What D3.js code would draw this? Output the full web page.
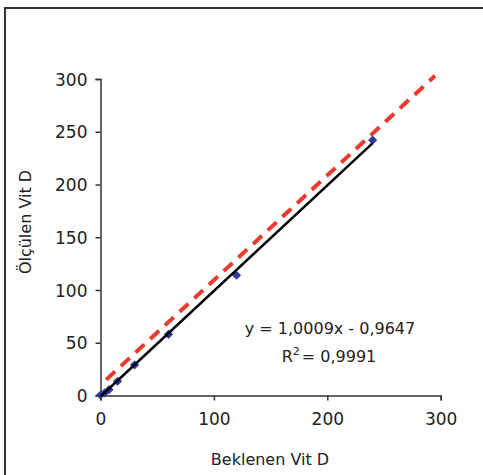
<!DOCTYPE html>
<html>
<head>
<meta charset="utf-8">
<script src="https://cdn.jsdelivr.net/npm/d3@7"></script>
<style>
  body { margin: 0; background: #fff; }
  svg text { font-family: "DejaVu Sans", sans-serif; fill: #222; }
  .axis path, .axis line { stroke: #333; stroke-width: 1.5px; }
  .axis text { font-size: 17px; }
</style>
</head>
<body>
<div id="chart"></div>
<script>
'use strict';

// expected vs measured vitamin D
const expected = [0, 3.75, 7.5, 15, 30, 60, 120, 240];
const measured = [0.5, 2.5, 5.5, 13.5, 29, 58, 114, 242];
// fitted trend line: y = 1,0009x - 0,9647
const slope = 1.0009;
const intercept = -0.9647;
const trendRange = [0, 240];
// reference line drawn over the figure
const refLine = [[5, 15], [295, 303]];
const xTicks = [0, 100, 200, 300];
const yTicks = [0, 50, 100, 150, 200, 250, 300];
const eqLines = ['y = 1,0009x - 0,9647', 'R', '2', '= 0,9991'];

const w = 483, h = 475;
const svg = d3.select('#chart').append('svg')
  .attr('width', w)
  .attr('height', h);

// outer frame
svg.append('rect')
  .attr('x', 5)
  .attr('y', 8)
  .attr('width', w + 10)
  .attr('height', h + 10)
  .attr('fill', 'none')
  .attr('stroke', '#333')
  .attr('stroke-width', 2);

const x = d3.scaleLinear().domain([0, 300]).range([100.5, 440.7]);
const y = d3.scaleLinear().domain([0, 300]).range([395.5, 79]);

const xAxis = d3.axisBottom(x).tickValues(xTicks).tickSize(5).tickPadding(12);
const yAxis = d3.axisLeft(y).tickValues(yTicks).tickSize(5).tickPadding(8);

svg.append('g')
  .attr('class', 'x axis')
  .attr('transform', 'translate(0,' + y(0) + ')')
  .call(xAxis);

svg.append('g')
  .attr('class', 'y axis')
  .attr('transform', 'translate(' + x(0) + ',0)')
  .call(yAxis);

svg.selectAll('.y.axis text').attr('dy', '0.36em');

// red dashed reference line
svg.append('line')
  .attr('x1', x(refLine[0][0]))
  .attr('y1', y(refLine[0][1]))
  .attr('x2', x(refLine[1][0]))
  .attr('y2', y(refLine[1][1]))
  .attr('stroke', '#ec3b2d')
  .attr('stroke-width', 4)
  .attr('stroke-dasharray', '12,8');

// points (squares turned 45 degrees)
const marker = d3.symbol().type(d3.symbolSquare).size(42);
svg.append('g')
  .selectAll('path')
  .data(expected)
  .enter()
  .append('path')
  .attr('d', marker)
  .attr('fill', '#2e3b9b')
  .attr('transform', function (d, i) {
    return 'translate(' + x(d) + ',' + y(measured[i]) + ') rotate(45)';
  });

// trend line
svg.append('line')
  .attr('x1', x(trendRange[0]))
  .attr('y1', y(slope * trendRange[0] + intercept))
  .attr('x2', x(trendRange[1]))
  .attr('y2', y(slope * trendRange[1] + intercept))
  .attr('stroke', '#000')
  .attr('stroke-width', 2.5);

// equation
svg.append('text')
  .attr('x', 330)
  .attr('y', 334)
  .attr('text-anchor', 'middle')
  .style('font-size', '16px')
  .text(eqLines[0]);

const r2 = svg.append('text')
  .attr('x', 329)
  .attr('y', 362)
  .attr('text-anchor', 'middle')
  .style('font-size', '16px');
r2.append('tspan').text(eqLines[1]);
r2.append('tspan').attr('dy', -7).style('font-size', '11px').text(eqLines[2]);
r2.append('tspan').attr('dy', 7).attr('dx', 2).text(eqLines[3]);

// axis titles
svg.append('text')
  .attr('x', 270)
  .attr('y', 465)
  .attr('text-anchor', 'middle')
  .style('font-size', '16px')
  .text('Beklenen Vit D');

svg.append('text')
  .attr('transform', 'translate(31,222) rotate(-90)')
  .attr('text-anchor', 'middle')
  .style('font-size', '16px')
  .text('Ölçülen Vit D');
</script>
</body>
</html>
